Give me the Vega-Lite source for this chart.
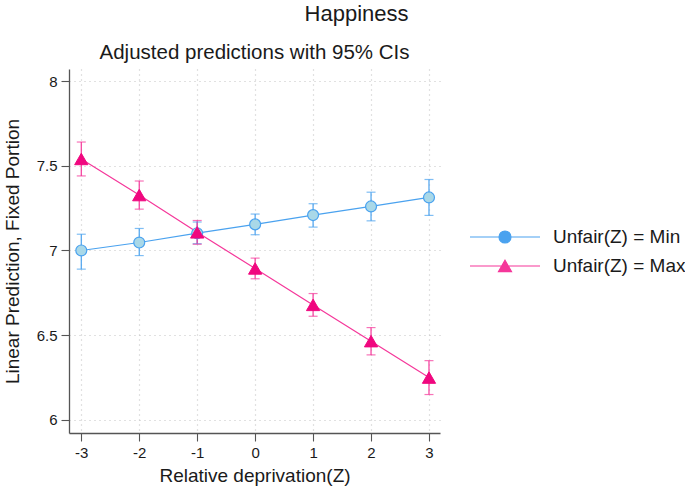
{
  "$schema": "https://vega.github.io/schema/vega-lite/v6.json",
  "padding": {"left": 3, "top": 2, "right": 0, "bottom": 3},
  "background": "white",
  "title": {"text": "Happiness", "anchor": "middle", "frame": "bounds", "fontSize": 22, "font": "Liberation Sans", "fontWeight": "normal", "color": "#1a1a1a", "offset": 17, "dx": 12},
  "config": {
    "font": "Liberation Sans",
    "view": {"stroke": null},
    "axis": {"labelFont": "Liberation Sans", "titleFont": "Liberation Sans", "labelColor": "#1a1a1a", "titleColor": "#1a1a1a", "titleFontWeight": "normal", "domainColor": "#555555", "domainWidth": 1.3, "tickColor": "#555555", "tickSize": 8, "tickWidth": 1.1, "gridColor": "#c4c4c4", "gridDash": [1, 4], "gridWidth": 1.2}
  },
  "hconcat": [
    {
      "width": 371,
      "height": 364,
      "title": {"text": "Adjusted predictions with 95% CIs", "anchor": "middle", "fontSize": 20.5, "font": "Liberation Sans", "fontWeight": "normal", "color": "#1a1a1a", "offset": 6},
      "data": {"values": [
        {"x": -3, "series": "Unfair(Z) = Min", "y": 7.0, "lo": 6.89, "hi": 7.096},
        {"x": -2, "series": "Unfair(Z) = Min", "y": 7.047, "lo": 6.97, "hi": 7.13},
        {"x": -1, "series": "Unfair(Z) = Min", "y": 7.102, "lo": 7.04, "hi": 7.168},
        {"x": 0, "series": "Unfair(Z) = Min", "y": 7.154, "lo": 7.093, "hi": 7.215},
        {"x": 1, "series": "Unfair(Z) = Min", "y": 7.209, "lo": 7.138, "hi": 7.276},
        {"x": 2, "series": "Unfair(Z) = Min", "y": 7.26, "lo": 7.175, "hi": 7.344},
        {"x": 3, "series": "Unfair(Z) = Min", "y": 7.313, "lo": 7.207, "hi": 7.419},
        {"x": -3, "series": "Unfair(Z) = Max", "y": 7.54, "lo": 7.44, "hi": 7.64},
        {"x": -2, "series": "Unfair(Z) = Max", "y": 7.327, "lo": 7.244, "hi": 7.41},
        {"x": -1, "series": "Unfair(Z) = Max", "y": 7.107, "lo": 7.037, "hi": 7.177},
        {"x": 0, "series": "Unfair(Z) = Max", "y": 6.894, "lo": 6.833, "hi": 6.955},
        {"x": 1, "series": "Unfair(Z) = Max", "y": 6.679, "lo": 6.612, "hi": 6.746},
        {"x": 2, "series": "Unfair(Z) = Max", "y": 6.465, "lo": 6.384, "hi": 6.545},
        {"x": 3, "series": "Unfair(Z) = Max", "y": 6.25, "lo": 6.15, "hi": 6.35}
      ]},
      "encoding": {
        "x": {"field": "x", "type": "quantitative", "scale": {"domain": [-3.212, 3.19], "nice": false, "zero": false},
              "axis": {"values": [-3, -2, -1, 0, 1, 2, 3], "labelExpr": "datum.value + ''", "title": "Relative deprivation(Z)", "labelFontSize": 15, "titleFontSize": 19, "labelPadding": 4, "titlePadding": 6}}
      },
      "layer": [
        {
          "mark": {"type": "rule", "strokeWidth": 1.2},
          "encoding": {
            "y": {"field": "lo", "type": "quantitative", "scale": {"domain": [5.923, 8.071], "nice": false, "zero": false},
                  "axis": {"values": [6, 6.5, 7, 7.5, 8], "format": "~g", "title": "Linear Prediction, Fixed Portion", "labelFontSize": 15, "titleFontSize": 19, "labelPadding": 4, "titlePadding": 14}},
            "y2": {"field": "hi"},
            "color": {"field": "series", "type": "nominal", "sort": ["Unfair(Z) = Min", "Unfair(Z) = Max"], "scale": {"domain": ["Unfair(Z) = Min", "Unfair(Z) = Max"], "range": ["#4aa2ef", "#f5379a"]},
              "legend": {"title": null, "orient": "none", "legendX": 400, "legendY": 157, "padding": 0, "symbolSize": 400, "symbolType": "circle", "labelFontSize": 19, "labelFont": "Liberation Sans", "labelColor": "#1a1a1a", "labelOffset": 62, "rowPadding": 8, "labelLimit": 300,
                "encode": {"symbols": {"update": {
                  "shape": {"signal": "datum.value === 'Unfair(Z) = Min' ? 'M-1,0L1.9,0A0.6,0.6,0,1,1,3.1,0A0.6,0.6,0,1,1,1.9,0M3.1,0L6,0' : 'M-1,0L6,0M2.5,-0.57L3.15,0.56L1.85,0.56Z'"},
                  "fill": {"signal": "datum.value === 'Unfair(Z) = Min' ? '#a9d8e8' : '#f0077f'"},
                  "stroke": {"signal": "datum.value === 'Unfair(Z) = Min' ? '#4aa2ef' : '#f5379a'"},
                  "strokeWidth": {"value": 1.2},
                  "size": {"value": 400},
                  "opacity": {"value": 1},
                  "fillOpacity": {"value": 1}
                }}}}}
          }
        },
        {
          "mark": {"type": "tick", "orient": "horizontal", "size": 9, "thickness": 1.2},
          "encoding": {
            "y": {"field": "lo", "type": "quantitative"},
            "color": {"field": "series", "type": "nominal"}
          }
        },
        {
          "mark": {"type": "tick", "orient": "horizontal", "size": 9, "thickness": 1.2},
          "encoding": {
            "y": {"field": "hi", "type": "quantitative"},
            "color": {"field": "series", "type": "nominal"}
          }
        },
        {
          "mark": {"type": "line", "strokeWidth": 1.2},
          "encoding": {
            "y": {"field": "y", "type": "quantitative"},
            "color": {"field": "series", "type": "nominal"}
          }
        },
        {
          "transform": [{"filter": "datum.series === 'Unfair(Z) = Min'"}],
          "mark": {"type": "point", "shape": "circle", "size": 120, "filled": true, "opacity": 1, "stroke": "#4aa2ef", "strokeWidth": 1.2},
          "encoding": {
            "y": {"field": "y", "type": "quantitative"},
            "fill": {"field": "series", "type": "nominal", "scale": {"domain": ["Unfair(Z) = Min", "Unfair(Z) = Max"], "range": ["#a9d8e8", "#f0077f"]}}
          }
        },
        {
          "transform": [{"filter": "datum.series === 'Unfair(Z) = Max'"}],
          "mark": {"type": "point", "shape": "triangle-up", "size": 175, "filled": true, "opacity": 1, "stroke": "#f0077f", "strokeWidth": 1},
          "encoding": {
            "y": {"field": "y", "type": "quantitative"},
            "fill": {"field": "series", "type": "nominal"}
          }
        }
      ]
    }
  ]
}
